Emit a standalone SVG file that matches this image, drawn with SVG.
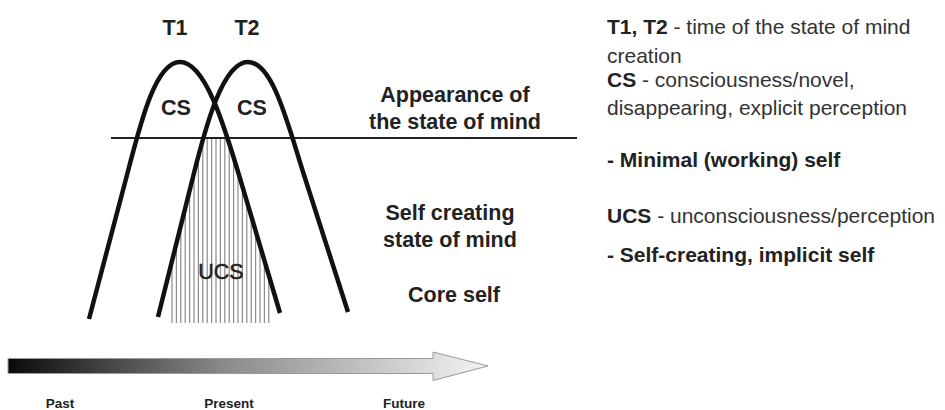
<svg xmlns="http://www.w3.org/2000/svg" width="945" height="410" viewBox="0 0 945 410">
<style>
.curve{fill:none;stroke:#111;stroke-width:4.5;stroke-linecap:butt;stroke-linejoin:round}
.hatch line{stroke:#8a8a8a;stroke-width:1.2}
.lbl{font-family:"Liberation Sans",Arial,sans-serif;font-size:21.5px;fill:#222}
.b{font-weight:bold}
.mid{text-anchor:middle}
.tl{font-family:"Liberation Sans",Arial,sans-serif;font-size:13.5px;font-weight:bold;fill:#222;text-anchor:middle}
.desc{font-family:"Liberation Sans",Arial,sans-serif;font-size:21px;fill:#333}
.k{font-weight:bold;fill:#222}
</style>
<defs>
<linearGradient id="tg" x1="0" y1="0" x2="1" y2="0">
<stop offset="0" stop-color="#0a0a0a"/>
<stop offset="0.45" stop-color="#8a8a8a"/>
<stop offset="1" stop-color="#f4f4f4"/>
</linearGradient>
<clipPath id="hc">
<polygon points="203,138 229,138 285,323 156,323"/>
</clipPath>
</defs>
<rect width="945" height="410" fill="#fff"/>

<g id="hatch" class="hatch" clip-path="url(#hc)">
<line x1="172" y1="130" x2="172" y2="323"/>
<line x1="176.4" y1="130" x2="176.4" y2="323"/>
<line x1="180.8" y1="130" x2="180.8" y2="323"/>
<line x1="185.2" y1="130" x2="185.2" y2="323"/>
<line x1="189.6" y1="130" x2="189.6" y2="323"/>
<line x1="194" y1="130" x2="194" y2="323"/>
<line x1="198.4" y1="130" x2="198.4" y2="323"/>
<line x1="202.8" y1="130" x2="202.8" y2="323"/>
<line x1="207.2" y1="130" x2="207.2" y2="323"/>
<line x1="211.6" y1="130" x2="211.6" y2="323"/>
<line x1="216" y1="130" x2="216" y2="323"/>
<line x1="220.4" y1="130" x2="220.4" y2="323"/>
<line x1="224.8" y1="130" x2="224.8" y2="323"/>
<line x1="229.2" y1="130" x2="229.2" y2="323"/>
<line x1="233.6" y1="130" x2="233.6" y2="323"/>
<line x1="238" y1="130" x2="238" y2="323"/>
<line x1="242.4" y1="130" x2="242.4" y2="323"/>
<line x1="246.8" y1="130" x2="246.8" y2="323"/>
<line x1="251.2" y1="130" x2="251.2" y2="323"/>
<line x1="255.6" y1="130" x2="255.6" y2="323"/>
<line x1="260" y1="130" x2="260" y2="323"/>
<line x1="264.4" y1="130" x2="264.4" y2="323"/>
<line x1="268.8" y1="130" x2="268.8" y2="323"/>
</g>

<g id="threshold">
<line x1="111" y1="138" x2="577" y2="138" stroke="#222" stroke-width="2"/>
</g>

<g id="curve-t1">
<path class="curve" d="M89,319 L127,175 C140,125 155,62 180,62 C205,62 224,125 239,175 L280,313"/>
<text class="lbl b mid" x="175" y="35">T1</text>
<text class="lbl b mid" x="176" y="115">CS</text>
</g>

<g id="curve-t2">
<path class="curve" d="M158,317 L193.5,175 C206,125 223,62 248,62 C273,62 288,125 304,175 L348,312"/>
<text class="lbl b mid" x="247" y="35">T2</text>
<text class="lbl b mid" x="252" y="115">CS</text>
</g>

<g id="ucs">
<text class="lbl mid" x="221" y="279" fill="#222" stroke="#222" stroke-width="0.5">UCS</text>
</g>

<g id="middle-labels">
<text class="lbl b mid" x="455" y="102">Appearance of</text>
<text class="lbl b mid" x="455" y="129">the state of mind</text>
<text class="lbl b mid" x="450" y="220">Self creating</text>
<text class="lbl b mid" x="450" y="247">state of mind</text>
<text class="lbl b mid" x="454" y="302">Core self</text>
</g>

<g id="legend">
<text class="desc" x="607" y="34"><tspan class="k">T1, T2</tspan> - time of the state of mind</text>
<text class="desc" x="607" y="63">creation</text>
<text class="desc" x="607" y="87"><tspan class="k">CS</tspan> - consciousness/novel,</text>
<text class="desc" x="607" y="115">disappearing, explicit perception</text>
<text class="desc k" x="607" y="167">- Minimal (working) self</text>
<text class="desc" x="607" y="223"><tspan class="k">UCS</tspan> - unconsciousness/perception</text>
<text class="desc k" x="607" y="262">- Self-creating, implicit self</text>
</g>

<g id="time-arrow">
<polygon points="8,358.5 433,358.5 433,352 488,366 433,380.5 433,373.5 8,373.5" fill="url(#tg)" stroke="#9a9a9a" stroke-width="1"/>
<text class="tl" x="60" y="408">Past</text>
<text class="tl" x="229" y="408">Present</text>
<text class="tl" x="404" y="408">Future</text>
</g>
</svg>
